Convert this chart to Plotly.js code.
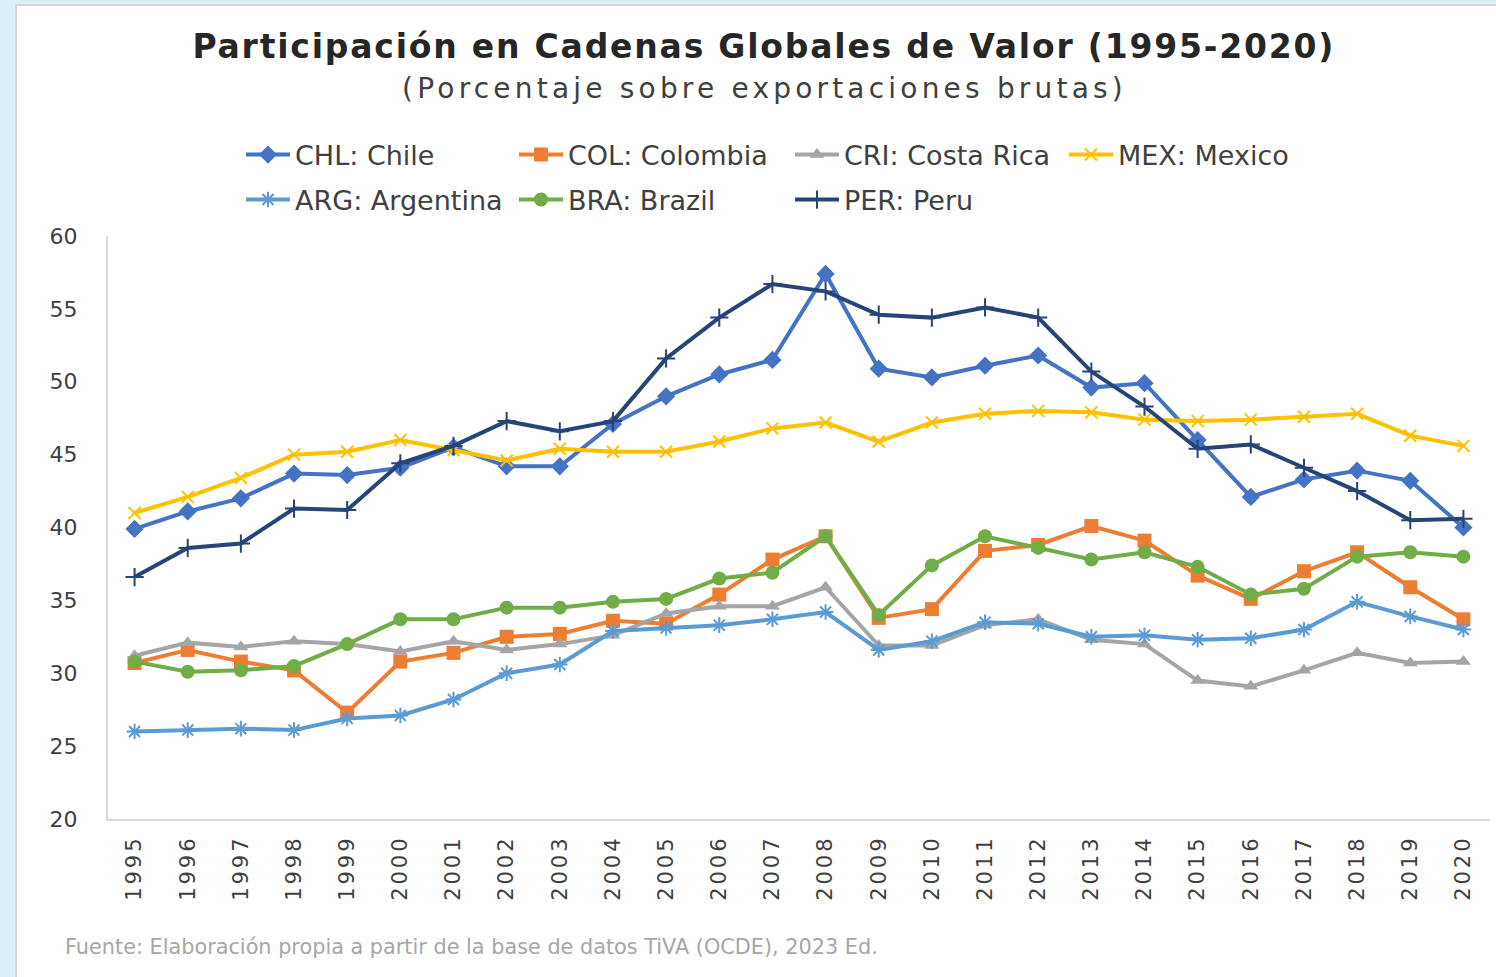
<!DOCTYPE html>
<html>
<head>
<meta charset="utf-8">
<script src="https://cdn.plot.ly/plotly-3.0.1.min.js"></script>
<style>
  html, body { margin: 0; padding: 0; background: #daeff6; width: 1496px; height: 977px; overflow: hidden; }
  #frame { position: absolute; left: 15px; top: 4px; width: 1481px; height: 973px; background: #fff;
           border-top: 2px solid #d6d6d6; border-left: 2px solid #d6d6d6; box-sizing: border-box; }
  #chart { position: absolute; left: 0px; top: 0px; width: 1479px; height: 971px; }
  .annotation[data-index="0"] text { letter-spacing: 1.8px; }
  .annotation[data-index="1"] text { letter-spacing: 4.2px; }
  .xtick text { letter-spacing: 3px; }
</style>
</head>
<body>
<div id="frame"><div id="chart"></div></div>
<script>
const years = ['1995','1996','1997','1998','1999','2000','2001','2002','2003','2004','2005','2006','2007',
               '2008','2009','2010','2011','2012','2013','2014','2015','2016','2017','2018','2019','2020'];

const chl = [39.9, 41.1, 42.0, 43.7, 43.6, 44.1, 45.5, 44.2, 44.2, 47.1, 49.0, 50.5, 51.5,
             57.4, 50.9, 50.3, 51.1, 51.8, 49.6, 49.9, 46.0, 42.1, 43.3, 43.9, 43.2, 40.0];
const col = [30.7, 31.6, 30.8, 30.2, 27.3, 30.8, 31.4, 32.5, 32.7, 33.6, 33.4, 35.4, 37.8,
             39.4, 33.8, 34.4, 38.4, 38.8, 40.1, 39.1, 36.7, 35.1, 37.0, 38.3, 35.9, 33.7];
const cri = [31.2, 32.1, 31.8, 32.2, 32.0, 31.5, 32.2, 31.6, 32.0, 32.6, 34.1, 34.6, 34.6,
             35.9, 31.9, 31.9, 33.3, 33.7, 32.3, 32.0, 29.5, 29.1, 30.2, 31.4, 30.7, 30.8];
const mex = [41.0, 42.1, 43.4, 45.0, 45.2, 46.0, 45.3, 44.6, 45.4, 45.2, 45.2, 45.9, 46.8,
             47.2, 45.9, 47.2, 47.8, 48.0, 47.9, 47.4, 47.3, 47.4, 47.6, 47.8, 46.3, 45.6];
const arg = [26.0, 26.1, 26.2, 26.1, 26.9, 27.1, 28.2, 30.0, 30.6, 32.9, 33.1, 33.3, 33.7,
             34.2, 31.6, 32.2, 33.5, 33.4, 32.5, 32.6, 32.3, 32.4, 33.0, 34.9, 33.9, 33.0];
const bra = [30.8, 30.1, 30.2, 30.5, 32.0, 33.7, 33.7, 34.5, 34.5, 34.9, 35.1, 36.5, 36.9,
             39.4, 34.0, 37.4, 39.4, 38.6, 37.8, 38.3, 37.3, 35.4, 35.8, 38.0, 38.3, 38.0];
const per = [36.6, 38.6, 38.9, 41.3, 41.2, 44.4, 45.6, 47.3, 46.6, 47.3, 51.6, 54.4, 56.7,
             56.2, 54.6, 54.4, 55.1, 54.4, 50.7, 48.3, 45.4, 45.7, 44.1, 42.5, 40.5, 40.6];

const yTicks = [20, 25, 30, 35, 40, 45, 50, 55, 60];

const titleText = 'Participación en Cadenas Globales de Valor (1995-2020)';
const subtitleText = '(Porcentaje sobre exportaciones brutas)';
const sourceText = 'Fuente: Elaboración propia a partir de la base de datos TiVA (OCDE), 2023 Ed.';

const LW = 4;
function tr(name, y, color, symbol, size, legend, openSym) {
  const m = { symbol: symbol, size: size, color: color };
  if (openSym) { m.line = { color: color, width: 2 }; }
  else { m.line = { width: 0 }; }
  return { x: years, y: y, name: name, type: 'scatter', mode: 'lines+markers',
           line: { color: color, width: LW }, marker: m, legend: legend };
}

const data = [
  tr('CHL: Chile', chl, '#4472C4', 'diamond', 14, 'legend', false),
  tr('COL: Colombia', col, '#ED7D31', 'square', 14, 'legend2', false),
  tr('CRI: Costa Rica', cri, '#A5A5A5', 'triangle-up', 13, 'legend3', false),
  tr('MEX: Mexico', mex, '#FFC000', 'x-thin-open', 12, 'legend4', true),
  tr('ARG: Argentina', arg, '#5B9BD5', 'asterisk-open', 13, 'legend5', true),
  tr('BRA: Brazil', bra, '#70AD47', 'circle', 14, 'legend6', false),
  tr('PER: Peru', per, '#264478', 'cross-thin-open', 13, 'legend7', true)
];

const legFont = { family: 'DejaVu Sans', size: 27, color: '#404040' };
// legend anchor points (paper coords)
const PW = 1382, PH = 583, ML = 91, PT = 230;
function px2x(px) { return (px - ML) / PW; }
function py2y(py) { return (PT + PH - py) / PH; }
function leg(xabs, yabs) {
  return { orientation: 'v', x: px2x(xabs - 17), xanchor: 'left', y: py2y(yabs - 6), yanchor: 'middle',
           itemwidth: 44, font: legFont, bgcolor: 'rgba(0,0,0,0)', borderwidth: 0 };
}
const colX = [241, 514, 790, 1064];
const rowY = [155, 200];

const layout = {
  width: 1479, height: 971,
  margin: { l: ML, r: 6, t: PT, b: 158 },
  paper_bgcolor: '#ffffff', plot_bgcolor: '#ffffff',
  font: { family: 'DejaVu Sans', color: '#595959' },
  showlegend: true,
  legend: leg(colX[0], rowY[0]),
  legend2: leg(colX[1], rowY[0]),
  legend3: leg(colX[2], rowY[0]),
  legend4: leg(colX[3], rowY[0]),
  legend5: leg(colX[0], rowY[1]),
  legend6: leg(colX[1], rowY[1]),
  legend7: leg(colX[2], rowY[1]),
  xaxis: {
    type: 'category', range: [-0.5, 25.5], showgrid: false, zeroline: false,
    showline: true, linecolor: '#d9d9d9', linewidth: 2,
    ticks: 'outside', ticklen: 6, tickcolor: 'rgba(0,0,0,0)', tickangle: -90,
    tickfont: { family: 'DejaVu Sans', size: 21, color: '#404040' }, fixedrange: true
  },
  yaxis: {
    range: [20, 60], tickvals: yTicks, ticktext: yTicks.map(String),
    showgrid: false, zeroline: false, showline: true, linecolor: '#d9d9d9', linewidth: 2,
    ticks: 'outside', ticklen: 24, tickcolor: 'rgba(0,0,0,0)',
    tickfont: { family: 'DejaVu Sans', size: 22, color: '#404040' }, fixedrange: true
  },
  annotations: [
    { text: '<b>' + titleText + '</b>', xref: 'paper', yref: 'paper', x: 0.4747, y: py2y(40),
      xanchor: 'center', yanchor: 'middle', showarrow: false,
      font: { family: 'DejaVu Sans', size: 33, color: '#262626' } },
    { text: subtitleText, xref: 'paper', yref: 'paper', x: 0.4747, y: py2y(83),
      xanchor: 'center', yanchor: 'middle', showarrow: false,
      font: { family: 'DejaVu Sans', size: 28, color: '#404040' } },
    { text: sourceText, xref: 'paper', yref: 'paper', x: -0.0325, y: py2y(941),
      xanchor: 'left', yanchor: 'middle', showarrow: false,
      font: { family: 'DejaVu Sans', size: 20.8, color: '#a6a6a6' } }
  ]
};

Plotly.newPlot('chart', data, layout, { displayModeBar: false, staticPlot: true });
</script>
</body>
</html>
